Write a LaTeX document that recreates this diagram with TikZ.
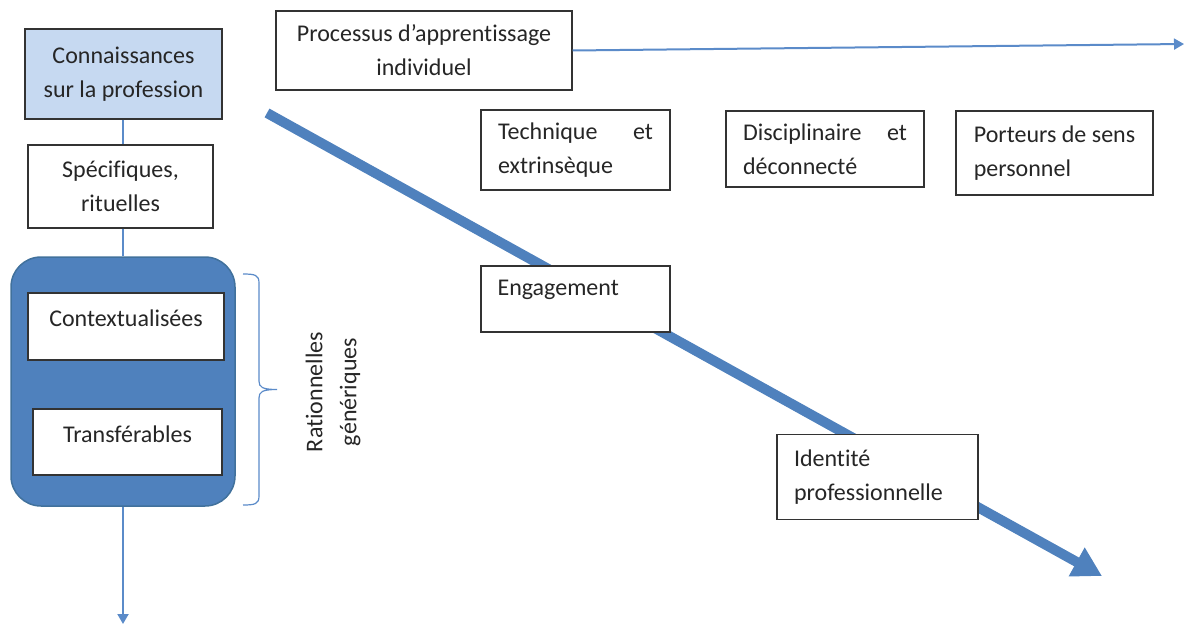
\documentclass[tikz,border=0pt]{standalone}
\usepackage{fontspec}
\setmainfont{Carlito}[Ligatures=NoCommon]
\usetikzlibrary{arrows.meta}
\definecolor{lightfill}{HTML}{C6D9F1}
\definecolor{darkfill}{HTML}{4F81BD}
\definecolor{darkline}{HTML}{41719C}
\definecolor{thinline}{HTML}{5B8BC9}

\begin{document}
\begin{tikzpicture}[
		x=1pt, y=-1pt,
		box/.style={draw=black!80, fill=white, line width=1.3pt, inner sep=0pt, font=\fontsize{24}{34}\selectfont, text=black!85},
		txt/.style={inner sep=0pt, font=\fontsize{24}{34}\selectfont, text=black!85},
		link/.style={draw=thinline, line width=2pt},
		>={Triangle[length=10pt,width=11pt]}]
	\useasboundingbox (0,0) rectangle (1185,626);
	%% long thick arrow
	\coordinate (start) at (267,113);
	\coordinate (end) at (1102,576);
	\draw[darkfill, line width=10pt, -{Triangle[length=29pt,width=31pt]}] (start) -- (end);
	%% left column
	\node[box, fill=lightfill, minimum width=197pt, minimum height=90pt, align=center] (conn) at (123.5,74) {Connaissances\\sur la profession};
	\node[box, minimum width=185pt, minimum height=83pt, align=center] (spec) at (120.5,186.5) {Spécifiques,\\rituelles};
	\node[draw=darkline, fill=darkfill, line width=1.5pt, rounded corners=30pt, minimum width=224pt, minimum height=249pt] (grp) at (123,381.5) {};
	\node[box, minimum width=196pt, minimum height=67pt, label={[txt, yshift=8pt]center:Contextualisées}] (ctx) at (126,326.5) {};
	\node[box, minimum width=189pt, minimum height=66pt, label={[txt, yshift=8pt]center:Transférables}] (trans) at (127.5,442) {};
	\draw[link] (grp.north |- conn.south) -- (grp.north |- spec.north);
	\draw[link] (grp.north |- spec.south) -- (grp.north);
	\coordinate (down) at (123,624);
	\draw[link, ->] (grp.south) -- (down);
	%% brace
	\draw[thinline, line width=1.2pt] (243,274) .. controls (255,274) and (259,275) .. (259,283) -- (259,381)
		.. controls (259,387) and (262,389.5) .. (277,389.5) .. controls (262,389.5) and (259,392) .. (259,398)
		-- (259,496) .. controls (259,504) and (255,505) .. (243,505);
	\node[txt, rotate=90, align=center] (rat) at (333,392) {Rationnelles\\génériques};
	%% top row
	\node[box, minimum width=296pt, minimum height=79pt, align=center] (proc) at (424,50.5) {Processus d’apprentissage\\individuel};
	\coordinate (procend) at (1184,44);
	\draw[link, ->] (proc.east) -- (procend);
	\node[box, minimum width=189pt, minimum height=80pt, inner xsep=17pt, text width=155pt, align=left] (tech) at (575.5,150) {Technique\hfill et\\extrinsèque};
	\node[box, minimum width=198pt, minimum height=76pt, inner xsep=17pt, text width=164pt, align=left] (disc) at (825,149) {Disciplinaire\hfill et\\déconnecté};
	\node[box, minimum width=197pt, minimum height=84pt, align=left] (sens) at (1054.5,153) {Porteurs de sens\\personnel};
	%% boxes on the thick arrow
	\node[box, minimum width=189pt, minimum height=66pt, label={[txt, anchor=west, xshift=17pt, yshift=9pt]west:Engagement}] (eng) at (575.5,299) {};
	\node[box, minimum width=201pt, minimum height=85pt, inner xsep=17pt, text width=167pt, align=left] (ident) at (877.5,477) {Identité\\professionnelle};
\end{tikzpicture}
\end{document}
